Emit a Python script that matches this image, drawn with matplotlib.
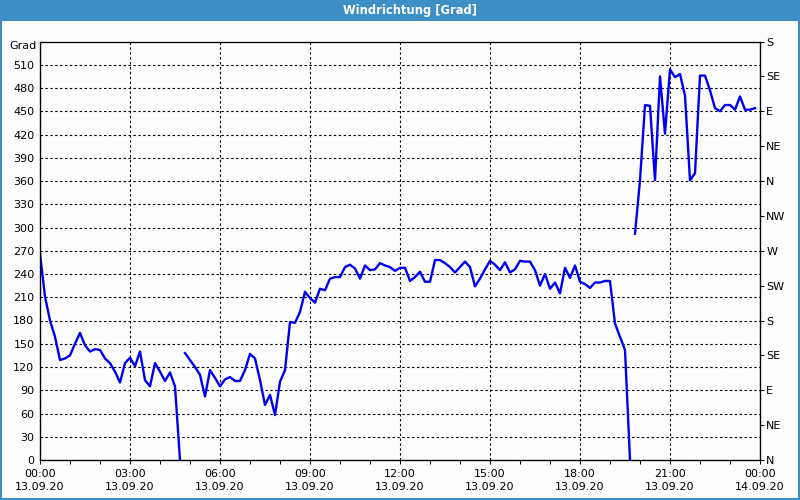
import numpy as np
import matplotlib
matplotlib.use("Agg")
import matplotlib.pyplot as plt
from matplotlib.patches import Rectangle

# minutes since 13.09.20 00:00, one sample every 10 minutes, NaN = no data
seg1_start = 0
seg1_values = [266, 211, 180, 159, 129, 131, 135, 150, 164, 148, 140, 143, 142, 131,
               125, 114, 100, 125, 132, 121, 140, 103, 95, 125, 114, 102, 113, 95, 0]
seg2_start = 290
seg2_values = [138, 129, 120, 110, 82, 116, 106, 95, 104, 107, 102, 102, 116, 137, 131,
               103, 71, 84, 58, 101, 116, 178, 177, 191, 217, 209, 203, 221, 219, 234,
               236, 236, 249, 252, 247, 234, 251, 245, 246, 254, 251, 249, 244, 248, 248,
               231, 236, 243, 230, 230, 258, 258, 254, 249, 242, 249, 256, 249, 224, 234,
               246, 257, 252, 245, 255, 242, 246, 257, 256, 256, 245, 225, 240, 221, 229,
               215, 248, 235, 251, 230, 227, 222, 229, 229, 231, 231, 176, 159, 142, 0]
seg3_start = 1190
seg3_values = [292, 361, 458, 457, 361, 495, 421, 504, 494, 498, 470, 361, 370, 496, 496,
               477, 454, 450, 458, 458, 452, 469, 452, 452, 454]

xtick_labels = ["00:00\n13.09.20", "03:00\n13.09.20", "06:00\n13.09.20",
                "09:00\n13.09.20", "12:00\n13.09.20", "15:00\n13.09.20",
                "18:00\n13.09.20", "21:00\n13.09.20", "00:00\n14.09.20"]
compass = ["N", "NE", "E", "SE", "S", "SW", "W", "NW", "N", "NE", "E", "SE", "S"]

STEP = 10
BLUE_BAR = "#3d8fc6"
BG = "#fcfdfc"


def segment(start, values):
    t = start + STEP * np.arange(len(values))
    return list(t), list(values)


times, values = [], []
for start, vals in [(seg1_start, seg1_values), (seg2_start, seg2_values),
                    (seg3_start, seg3_values)]:
    t, v = segment(start, vals)
    if times:
        times.append((times[-1] + t[0]) / 2)
        values.append(np.nan)
    times += t
    values += v

fig = plt.figure(figsize=(8, 5), dpi=100, facecolor=BG)

# window title bar and frame
fig.patches.append(Rectangle((0, 1 - 21 / 500), 1, 21 / 500, transform=fig.transFigure,
                             facecolor=BLUE_BAR, edgecolor="none", zorder=0))
fig.patches.append(Rectangle((0.001, 0.002), 0.998, 0.996, transform=fig.transFigure,
                             facecolor="none", edgecolor=BLUE_BAR, lw=1.5, zorder=0))
fig.text(410 / 800, 1 - 10.5 / 500, "Windrichtung [Grad]", color="white", fontsize=8.3,
         fontweight="bold", ha="center", va="center")

ax = fig.add_axes([0.05, 0.08, 0.9, 0.837])
ax.set_facecolor(BG)
ax.plot(times, values, color="#0000ee", lw=1.7, zorder=3)

ax.set_xlim(0, 1440)
ax.set_ylim(0, 540)
ax.set_xticks(np.arange(0, 1441, 180))
ax.set_xticklabels(xtick_labels, fontsize=8, linespacing=1.35)
ax.set_xticks(np.arange(0, 1441, 60), minor=True)
ax.set_yticks(np.arange(0, 511, 30))
ax.set_yticklabels([str(v) for v in range(0, 511, 30)], fontsize=8)
ax.tick_params(axis="x", which="both", length=3, width=0.7, direction="out", pad=3.5)
ax.tick_params(axis="y", length=0, pad=4)
ax.grid(True, which="major", color="black", lw=0.8, linestyle=(0, (2.2, 2.2)))
ax.text(-0.005, 534, "Grad", transform=ax.get_yaxis_transform(), fontsize=8,
        ha="right", va="center")
for sp in ax.spines.values():
    sp.set_linewidth(0.9)

ax2 = ax.twinx()
ax2.set_ylim(0, 540)
ax2.set_yticks(np.arange(0, 541, 45))
ax2.set_yticklabels(compass, fontsize=8)
ax2.tick_params(axis="y", length=3, width=0.7, direction="out", pad=1.5)

fig.savefig("out.png", dpi=100, facecolor=BG)
